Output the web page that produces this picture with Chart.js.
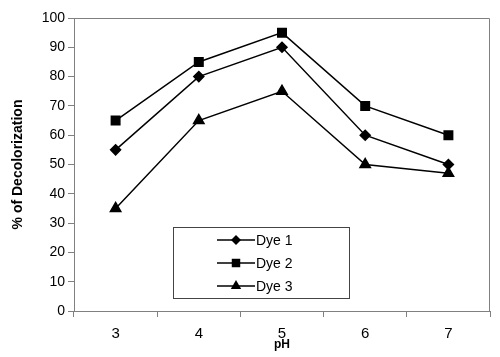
<!DOCTYPE html>
<html>
<head>
<meta charset="utf-8">
<script src="https://cdn.jsdelivr.net/npm/chart.js@4"></script>
<style>
  html, body { margin: 0; padding: 0; background: #fff; }
  #wrap { width: 500px; height: 357px; }
</style>
</head>
<body>
<div id="wrap"><canvas id="dyeChart"></canvas></div>
<script>
const phLabels = ["3", "4", "5", "6", "7"];
const dye1 = [55, 80, 90, 60, 50];
const dye2 = [65, 85, 95, 70, 60];
const dye3 = [35, 65, 75, 50, 47];
const yTicks = [0, 10, 20, 30, 40, 50, 60, 70, 80, 90, 100];

const axisGray = "#808080";
const font = "'Liberation Sans', Arial, sans-serif";

// frame round the plot area, plus the boxed legend inside it
const framePlugin = {
  id: "frame",
  afterDraw(chart) {
    const { ctx, chartArea: a } = chart;
    ctx.save();
    ctx.strokeStyle = axisGray;
    ctx.lineWidth = 1;
    ctx.beginPath();
    ctx.moveTo(a.left, a.top + 0.5);
    ctx.lineTo(a.right - 0.5, a.top + 0.5);
    ctx.lineTo(a.right - 0.5, a.bottom);
    ctx.stroke();

    // legend box
    const x0 = 173, y0 = 227, w = 176, h = 71;
    ctx.fillStyle = "#fff";
    ctx.fillRect(x0, y0, w, h);
    ctx.strokeStyle = "#444";
    ctx.strokeRect(x0 + 0.5, y0 + 0.5, w, h);

    chart.data.datasets.forEach((ds, i) => {
      const y = 240 + i * 23;
      ctx.strokeStyle = "#000";
      ctx.lineWidth = 1.5;
      ctx.beginPath();
      ctx.moveTo(217, y);
      ctx.lineTo(255, y);
      ctx.stroke();
      ctx.fillStyle = "#000";
      Chart.helpers.drawPoint(ctx, {
        pointStyle: ds.pointStyle,
        radius: ds.pointRadius,
        rotation: 0
      }, 236, y);
      ctx.fillStyle = "#000";
      ctx.font = "14px " + font;
      ctx.textBaseline = "middle";
      ctx.textAlign = "left";
      ctx.fillText(ds.label, 256, y + 1);
    });
    ctx.restore();
  }
};

const common = {
  borderColor: "#000",
  backgroundColor: "#000",
  pointBackgroundColor: "#000",
  pointBorderColor: "#000",
  borderWidth: 1.5,
  tension: 0
};

new Chart(document.getElementById("dyeChart"), {
  type: "line",
  data: {
    labels: phLabels,
    datasets: [
      { ...common, label: "Dye 1", data: dye1, pointStyle: "rectRot", pointRadius: 5 },
      { ...common, label: "Dye 2", data: dye2, pointStyle: "rect", pointRadius: 6 },
      { ...common, label: "Dye 3", data: dye3, pointStyle: "triangle", pointRadius: 6 }
    ]
  },
  options: {
    responsive: true,
    maintainAspectRatio: false,
    animation: false,
    layout: { padding: { top: 18, right: 10, left: 0, bottom: 0 } },
    plugins: {
      legend: { display: false },
      tooltip: { enabled: false }
    },
    scales: {
      x: {
        offset: true,
        grid: {
          offset: true,
          drawOnChartArea: false,
          drawTicks: true,
          tickLength: 6,
          color: axisGray
        },
        border: { color: axisGray, width: 1 },
        ticks: { color: "#000", font: { family: font, size: 15 }, padding: 8 },
        title: {
          display: true,
          text: "pH",
          color: "#000",
          font: { family: font, size: 12, weight: "bold" },
          padding: { top: 0, bottom: 5 }
        },
        afterFit(scale) { scale.height = 46; }
      },
      y: {
        min: 0,
        max: 100,
        afterBuildTicks(scale) { scale.ticks = yTicks.map(v => ({ value: v })); },
        grid: {
          drawOnChartArea: false,
          drawTicks: true,
          tickLength: 6,
          color: axisGray
        },
        border: { color: axisGray, width: 1 },
        ticks: { color: "#000", font: { family: font, size: 14 }, padding: 3 },
        title: {
          display: true,
          text: "% of Decolorization",
          color: "#000",
          font: { family: font, size: 14, weight: "bold" },
          padding: { top: 10, bottom: 0 }
        },
        afterFit(scale) { scale.width = 74; }
      }
    }
  },
  plugins: [framePlugin]
});
</script>
</body>
</html>
